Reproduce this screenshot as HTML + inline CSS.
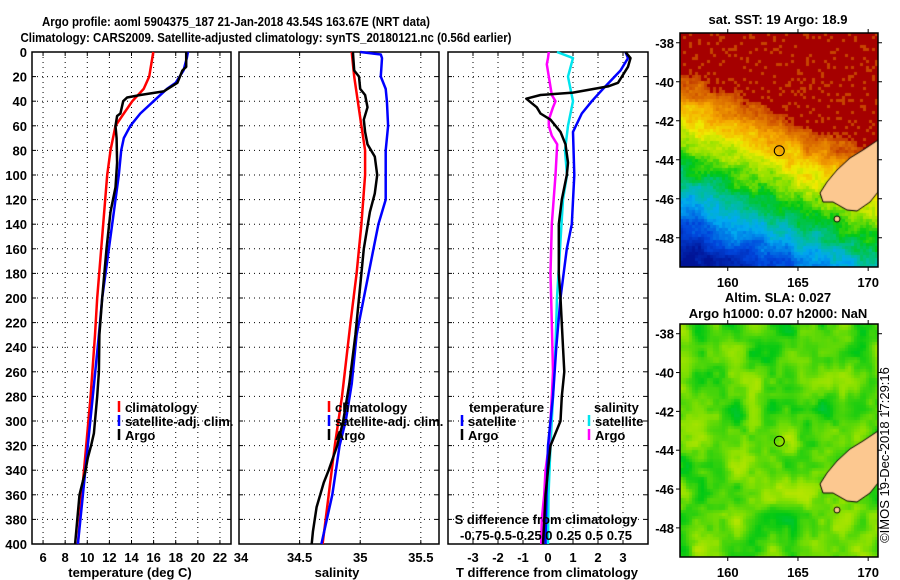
<!DOCTYPE html>
<html><head><meta charset="utf-8"><style>
html,body{margin:0;padding:0;background:#fff;}
#wrap{position:relative;width:900px;height:580px;overflow:hidden;}
svg{position:absolute;left:0;top:0;}
canvas{position:absolute;}
text{font-family:"Liberation Sans",sans-serif;font-weight:bold;font-size:13px;fill:#000;}
</style></head><body>
<div id="wrap">
<canvas id="map1" width="198" height="234" style="left:680px;top:33px"></canvas>
<canvas id="map2" width="198" height="233" style="left:680px;top:324px"></canvas>
<svg id="svg" width="900" height="580" xmlns="http://www.w3.org/2000/svg"></svg>
</div>
<script>
// ---------- data ----------
const depthTicks = [0,20,40,60,80,100,120,140,160,180,200,220,240,260,280,300,320,340,360,380,400];
const tempTicks = [6,8,10,12,14,16,18,20,22];
const salTicks = [34,34.5,35,35.5];
const diffTicks = [-3,-2,-1,0,1,2,3];

const climTempDepth = [0,20,30,40,50,60,80,100,140,200,230,280,320,360,400];
const climTemp      = [15.97,15.6,15.1,14.07,13.3,12.55,12.1,11.8,11.44,10.9,10.7,10.3,9.9,9.5,9.15];
const satTempDepth  = [0,5,15,25,30,40,50,60,70,80,100,140,200,230,280,320,360,400];
const satTemp       = [19.1,19.0,18.7,18.0,17.2,16.0,14.8,13.9,13.3,13.07,12.85,12.25,11.35,11.05,10.5,10.05,9.6,9.15];
const argoTempDepth = [0,12,15,25,32,35,37,40,50,52,60,70,90,110,130,160,200,230,260,280,310,320,330,340,360,380,400];
const argoTemp      = [18.95,18.95,18.6,18.15,16.9,14.8,13.6,13.25,13.0,12.7,12.55,12.65,12.7,12.55,12.1,11.74,11.35,11.1,11.05,10.9,10.6,10.35,10.05,9.85,9.3,9.1,8.9];

const climSalDepth = [0,20,40,60,80,100,140,180,220,280,320,360,400];
const climSal      = [34.93,34.95,34.98,35.01,35.04,35.04,35.01,34.97,34.92,34.85,34.79,34.74,34.69];
const satSalDepth  = [0,2,5,20,30,40,60,80,120,140,160,200,230,270,300,320,360,400];
const satSal       = [35.0,35.17,35.18,35.17,35.21,35.22,35.23,35.21,35.21,35.15,35.11,35.03,34.97,34.93,34.88,34.83,34.77,34.68];
const argoSalDepth = [0,15,20,30,35,45,55,65,75,85,100,115,130,160,200,230,270,300,320,340,350,370,390,400];
const argoSal      = [34.94,34.95,34.99,35.0,35.04,35.06,35.03,35.04,35.06,35.12,35.14,35.12,35.08,35.03,34.99,34.96,34.91,34.86,34.81,34.74,34.70,34.64,34.61,34.60];

const satTdiffDepth = [0,5,15,30,40,50,65,100,140,160,200,240,280,320,360,400];
const satTdiff      = [3.1,3.2,2.9,2.2,1.75,1.35,1.0,1.05,0.95,0.75,0.5,0.33,0.2,0.0,-0.06,-0.1];
const argoTdiffDepth = [0,5,12,25,28,33,35,38,45,50,55,65,75,90,100,120,140,180,200,240,260,280,300,310,320,340,360,380,400];
const argoTdiff      = [3.1,3.3,3.2,2.8,2.4,1.0,-0.3,-0.87,-0.45,-0.3,0.1,0.5,0.7,0.8,0.75,0.55,0.43,0.43,0.5,0.6,0.65,0.55,0.5,0.3,0.1,0.0,-0.1,-0.15,-0.2];
const satSdiffDepth = [0,5,20,40,60,80,100,120,160,200,240,280,320,360,400];
const satSdiff      = [0.09,0.25,0.2,0.25,0.2,0.17,0.19,0.15,0.12,0.09,0.075,0.05,0.025,0.005,0.0];
const argoSdiffDepth = [0,5,10,20,35,40,45,55,60,68,75,100,140,180,220,260,280,300,320,340,360,380,400];
const argoSdiff      = [0.008,0,-0.012,0.008,0.038,0.075,0.05,0.008,0.008,0.038,0.092,0.075,0.038,0.025,0.038,0.05,0.038,0.025,0.008,-0.025,-0.038,-0.062,-0.068];

// ---------- geometry ----------
const svg = document.getElementById('svg');
const NS = 'http://www.w3.org/2000/svg';
const TOP = 52, BOT = 544;
const yD = d => TOP + d*(BOT-TOP)/400;
const P1 = {l:32, r:231, min:5, max:23};
const P2 = {l:239, r:439, min:34, max:35.65};
const P3 = {l:448, r:648, min:-4, max:4};
const xOf = (p,v) => p.l + (v-p.min)*(p.r-p.l)/(p.max-p.min);
const xS = s => xOf(P3, s*4);

function mk(tag, attrs, parent){
  const e = document.createElementNS(NS, tag);
  for (const k in attrs) e.setAttribute(k, attrs[k]);
  (parent||svg).appendChild(e);
  return e;
}
function txt(x,y,s,anchor,name,extra){
  const t = mk('text',{x:x,y:y,'text-anchor':anchor||'middle'});
  t.textContent = s;
  
  
  if (extra) for (const k in extra) t.setAttribute(k, extra[k]);
  return t;
}

txt(236,26,'Argo profile: aoml 5904375_187 21-Jan-2018 43.54S 163.67E (NRT data)','middle','title-line-1',{textLength:388,lengthAdjust:'spacingAndGlyphs','font-size':'14'});
txt(266,42,'Climatology: CARS2009. Satellite-adjusted climatology: synTS_20180121.nc (0.56d earlier)','middle','title-line-2',{textLength:491,lengthAdjust:'spacingAndGlyphs','font-size':'14'});

function panel(p, xticks, xfmt, name){
  const g = mk('g',{});
  
  
  depthTicks.forEach(d=>{
    if (d===0||d===400) return;
    const l = mk('line',{x1:p.l,x2:p.r,y1:yD(d),y2:yD(d),stroke:'#000','stroke-width':1,'stroke-dasharray':'1 4'},g);
    
    
    mk('line',{x1:p.l,x2:p.l+4,y1:yD(d),y2:yD(d),stroke:'#000'},g);
    mk('line',{x1:p.r-4,x2:p.r,y1:yD(d),y2:yD(d),stroke:'#000'},g);
  });
  xticks.forEach(v=>{
    const x = xOf(p,v);
    if (x<=p.l+1||x>=p.r-1) return;
    const l = mk('line',{x1:x,x2:x,y1:TOP,y2:BOT,stroke:'#000','stroke-width':1,'stroke-dasharray':'1 4'},g);
    
    
    mk('line',{x1:x,x2:x,y1:TOP,y2:TOP+4,stroke:'#000'},g);
    mk('line',{x1:x,x2:x,y1:BOT-4,y2:BOT,stroke:'#000'},g);
  });
  xticks.forEach(v=>{
    txt(Math.max(xOf(p,v), p.l+2), 562, xfmt(v), 'middle', 'x-tick-label');
  });
  const fr = mk('rect',{x:p.l,y:TOP,width:p.r-p.l,height:BOT-TOP,fill:'none',stroke:'#000','stroke-width':1.5},g);
  
  
  return g;
}
panel(P1,tempTicks,v=>String(v),'temperature-panel');
panel(P2,salTicks,v=>String(v),'salinity-panel');
panel(P3,diffTicks,v=>String(v),'difference-panel');
depthTicks.forEach(d=> txt(27, yD(d)+5, String(d), 'end', 'depth-tick-label'));
txt(130,577,'temperature (deg C)','middle','temperature-axis-title');
txt(337,577,'salinity','middle','salinity-axis-title');
txt(547,577,'T difference from climatology','middle','t-difference-axis-title');

function series(xs, ds, xf, color, w, name){
  const pts = xs.map((v,i)=> xf(v).toFixed(1)+','+yD(ds[i]).toFixed(1)).join(' ');
  const pl = mk('polyline',{points:pts,fill:'none',stroke:color,'stroke-width':w,'stroke-linejoin':'round'});
  
  
}
series(climTemp, climTempDepth, v=>xOf(P1,v), '#ff0000', 2.5, 'climatology-temp-line');
series(satTemp, satTempDepth, v=>xOf(P1,v), '#0000ff', 2.5, 'satellite-temp-line');
series(argoTemp, argoTempDepth, v=>xOf(P1,v), '#000000', 2.5, 'argo-temp-line');
series(climSal, climSalDepth, v=>xOf(P2,v), '#ff0000', 2.5, 'climatology-salinity-line');
series(satSal, satSalDepth, v=>xOf(P2,v), '#0000ff', 2.5, 'satellite-salinity-line');
series(argoSal, argoSalDepth, v=>xOf(P2,v), '#000000', 2.5, 'argo-salinity-line');
series(satSdiff, satSdiffDepth, xS, '#00e5ee', 2.5, 'satellite-s-diff-line');
series(argoSdiff, argoSdiffDepth, xS, '#ff00ff', 2.5, 'argo-s-diff-line');
series(satTdiff, satTdiffDepth, v=>xOf(P3,v), '#0000ff', 2.5, 'satellite-t-diff-line');
series(argoTdiff, argoTdiffDepth, v=>xOf(P3,v), '#000000', 2.5, 'argo-t-diff-line');

function legItem(x,y,color,label,name){
  const m = mk('line',{x1:x,x2:x,y1:y-11,y2:y,stroke:color,'stroke-width':2.5});
  
  
  txt(x+6,y,label,'start',name);
}
legItem(119,412,'#ff0000','climatology','legend-climatology');
legItem(119,426,'#0000ff','satellite-adj. clim.','legend-satellite-adj');
legItem(119,440,'#000000','Argo','legend-argo');
legItem(329,412,'#ff0000','climatology','legend-climatology-2');
legItem(329,426,'#0000ff','satellite-adj. clim.','legend-satellite-adj-2');
legItem(329,440,'#000000','Argo','legend-argo-2');
txt(469,412,'temperature','start','legend-temperature-heading');
legItem(462,426,'#0000ff','satellite','legend-t-satellite');
legItem(462,440,'#000000','Argo','legend-t-argo');
txt(594,412,'salinity','start','legend-salinity-heading');
legItem(589,426,'#00e5ee','satellite','legend-s-satellite');
legItem(589,440,'#ff00ff','Argo','legend-s-argo');
txt(546,524,'S difference from climatology','middle','s-difference-axis-title');
txt(546,540,'-0.75-0.5-0.25 0   0.25 0.5 0.75','middle','s-difference-tick-labels',{'xml:space':'preserve'});

// ---------- maps ----------
const lonTicks = [160,165,170];
const latTicks = [-38,-40,-42,-44,-46,-48];
const M = {l:680, r:878, lon0:156.6, lon1:170.7, lat0:-37.5, lat1:-49.5};
function mapAxes(top, h, name){
  const g = mk('g',{});
  
  
  const fr = mk('rect',{x:M.l,y:top,width:M.r-M.l,height:h,fill:'none',stroke:'#000','stroke-width':1.5},g);
  
  
  const lx = v => M.l + (v-M.lon0)*(M.r-M.l)/(M.lon1-M.lon0);
  const ly = v => top + (v-M.lat0)*h/(M.lat1-M.lat0);
  lonTicks.forEach(v=>{
    mk('line',{x1:lx(v),x2:lx(v),y1:top,y2:top-4,stroke:'#000'},g);
    mk('line',{x1:lx(v),x2:lx(v),y1:top+h,y2:top+h+4,stroke:'#000'},g);
    txt(lx(v), top+h+20, String(v), 'middle', name+'-lon-label');
  });
  latTicks.forEach(v=>{
    mk('line',{x1:M.l,x2:M.l-4,y1:ly(v),y2:ly(v),stroke:'#000'},g);
    mk('line',{x1:M.r,x2:M.r+4,y1:ly(v),y2:ly(v),stroke:'#000'},g);
    txt(674, ly(v)+5, String(v), 'end', name+'-lat-label');
  });
  const c = mk('circle',{cx:lx(163.67),cy:ly(-43.54),r:5,fill:'none',stroke:'#000','stroke-width':1},g);
  
  
}
txt(778,24,'sat. SST: 19 Argo: 18.9','middle','sst-map-title');
txt(778,302,'Altim. SLA: 0.027','middle','sla-map-title');
txt(778,318,'Argo h1000: 0.07 h2000: NaN','middle','sla-map-subtitle');
txt(889,455,'©IMOS 19-Dec-2018 17:29:16','middle','timestamp',{transform:'rotate(-90 889 455)',style:'font-weight:normal;font-size:13px'});

const landPts = [[198,107],[183,117],[170,125],[157,137],[147,149],[140,160],[143,169],[153,169],[167,177],[177,178],[190,169],[198,159]];
function hash(i,j,s){let h=(i*374761393+j*668265263+s*1442695041)|0;h=(h^(h>>>13))*1274126177|0;return ((h^(h>>>16))>>>0)/4294967295;}
function vnoise(x,y,s){const i=Math.floor(x),j=Math.floor(y),fx=x-i,fy=y-j;const u=fx*fx*(3-2*fx),v=fy*fy*(3-2*fy);
 const a=hash(i,j,s),b=hash(i+1,j,s),c=hash(i,j+1,s),d=hash(i+1,j+1,s);return a+(b-a)*u+(c-a)*v+(a-b-c+d)*u*v;}
const cmap=[[0,[0,20,150]],[0.15,[0,70,220]],[0.28,[0,170,240]],[0.38,[0,190,150]],[0.48,[0,200,20]],[0.58,[140,225,0]],[0.68,[240,235,0]],[0.78,[245,165,0]],[0.88,[215,100,0]],[1,[165,0,0]]];
function col(v){v=Math.max(0,Math.min(1,v));
 for(let k=1;k<cmap.length;k++){if(v<=cmap[k][0]){const a=cmap[k-1],b=cmap[k],t=(v-a[0])/(b[0]-a[0]);
  return 'rgb('+a[1].map((c,i)=>Math.round(c+(b[1][i]-c)*t)).join(',')+')';}}
 return 'rgb(165,0,0)';}
function drawMap(id, field){
  const cv=document.getElementById(id), ctx=cv.getContext('2d');
  const W=cv.width,H=cv.height,cs=3;
  for(let y=0;y<H;y+=cs)for(let x=0;x<W;x+=cs){
    const lon=M.lon0+(x/W)*(M.lon1-M.lon0), lat=M.lat0+(y/H)*(M.lat1-M.lat0);
    ctx.fillStyle=field(lon,lat,x,y);ctx.fillRect(x,y,cs,cs);
  }
  ctx.beginPath();landPts.forEach((p,i)=>i?ctx.lineTo(p[0],p[1]):ctx.moveTo(p[0],p[1]));ctx.closePath();
  ctx.fillStyle='#fcc890';ctx.fill();ctx.strokeStyle='#000';ctx.lineWidth=1;ctx.stroke();
  ctx.beginPath();ctx.arc(157,186,3,0,7);ctx.fillStyle='#fcc890';ctx.fill();ctx.stroke();
}
drawMap('map1',(lon,lat,x,y)=>{
  const d = lat - (-39.5 - 0.3*(lon-156.6));
  let v = 0.93 + 0.1*d + (vnoise(x/9,y/9,1)-0.5)*0.1 + (hash(x,y,7)-0.5)*0.05;
  if (v>0.93) v = (hash(x,y,3)>0.85)? 0.92 : 1;
  return col(v);
});
drawMap('map2',(lon,lat,x,y)=>{
  const n = vnoise(x/18,y/28,5)*0.7 + vnoise(x/7,y/7,9)*0.3;
  return col(0.44 + n*0.2);
});
mapAxes(33,234,'sst-map');
mapAxes(324,233,'sla-map');
</script>
</body></html>
